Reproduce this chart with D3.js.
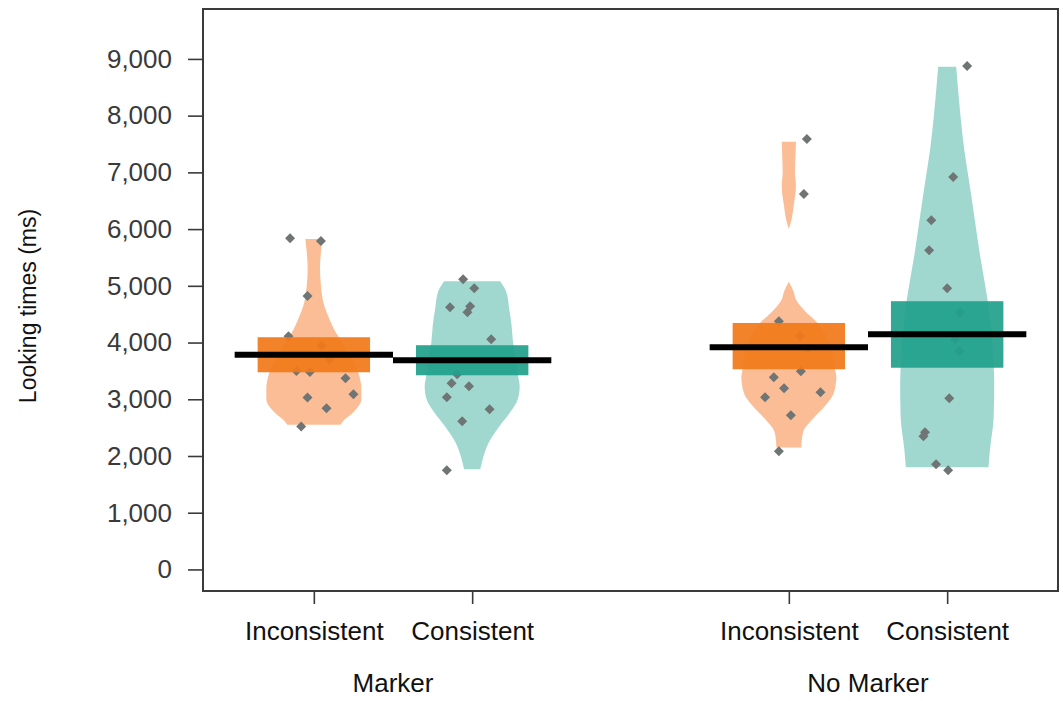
<!DOCTYPE html>
<html>
<head>
<meta charset="utf-8">
<script src="https://cdn.jsdelivr.net/npm/d3@7"></script>
<style>
  body { margin: 0; background: #fff; }
  text { font-family: "Liberation Sans", Arial, sans-serif; }
</style>
</head>
<body>
<div id="chart"></div>
<script>
// looking times per condition (ms)
const groups = ['Marker', 'No Marker'];
const conditions = ['Inconsistent', 'Consistent'];
const yTicks = [0, 1000, 2000, 3000, 4000, 5000, 6000, 7000, 8000, 9000];

const means = [3785, 3688, 3917, 4147];
const infLow = [3476, 3423, 3529, 3556];
const infHigh = [4094, 3953, 4345, 4729];

// bean densities, [value, relative density]
const bean1 = [[5825, 0.18], [5600, 0.15], [5300, 0.13], [5000, 0.15], [4710, 0.2], [4410, 0.33], [4180, 0.46],
  [4000, 0.6], [3800, 0.75], [3600, 0.88], [3400, 0.96], [3200, 1.0], [3000, 1.0], [2770, 0.83], [2600, 0.6], [2550, 0.56]];
const bean2 = [[5080, 0.59], [4890, 0.72], [4590, 0.78], [4300, 0.83], [4000, 0.86], [3700, 0.92], [3400, 0.97],
  [3230, 1.0], [3000, 0.96], [2770, 0.8], [2520, 0.57], [2240, 0.35], [1940, 0.22], [1765, 0.17]];
const bean3 = [[7540, 0.15], [7300, 0.14], [7000, 0.13], [6760, 0.15], [6400, 0.1], [6180, 0.06], [6000, 0],
  [5500, null], [5070, 0], [4900, 0.1], [4760, 0.15], [4530, 0.37], [4350, 0.6], [4100, 0.8], [3800, 0.93],
  [3500, 0.98], [3400, 1.0], [3120, 0.95], [2880, 0.76], [2650, 0.5], [2420, 0.3], [2150, 0.26]];
const bean4 = [[8860, 0.19], [8000, 0.28], [7400, 0.36], [6800, 0.47], [6230, 0.57], [5600, 0.68], [5060, 0.79],
  [4700, 0.86], [4200, 0.93], [3700, 0.97], [3300, 0.99], [2700, 0.98], [2100, 0.9], [1800, 0.87]];
const beans = [bean1, bean2, bean3, bean4];

// raw observations, [value, jitter]
const points1 = [[5840, -0.15], [5790, 0.045], [4820, -0.04], [4110, -0.16], [3500, -0.11], [3480, -0.025],
  [3370, 0.2], [3090, 0.25], [3030, -0.04], [2840, 0.08], [2520, -0.08], [3950, 0.05], [3700, 0.1]];
const points2 = [[5117, -0.057], [4958, 0.013], [4623, -0.14], [4640, -0.013], [4535, -0.03], [4058, 0.12],
  [3441, -0.095], [3282, -0.13], [3229, -0.02], [3035, -0.16], [2823, 0.11], [2612, -0.063], [1747, -0.16]];
const points3 = [[7588, 0.114], [6617, 0.095], [4376, -0.063], [4110, 0.07], [3494, 0.076], [3388, -0.095],
  [3194, -0.03], [3035, -0.15], [3123, 0.2], [2717, 0.013], [2082, -0.063], [3900, 0.12]];
const points4 = [[8876, 0.126], [6917, 0.038], [6158, -0.1], [5629, -0.114], [4958, 0], [4535, 0.082],
  [4058, 0.05], [3847, 0.076], [3017, 0.013], [2418, -0.14], [2347, -0.15], [1853, -0.07], [1747, 0.006]];
const points = [points1, points2, points3, points4];

const beanColors = ['#fbbd95', '#a0d8d0', '#fbbd95', '#a0d8d0'];
const boxColors = ['#f27a1a', '#21a08c', '#f27a1a', '#21a08c'];

const width = 1063, height = 701;
const margin = { top: 9, right: 5, bottom: 110, left: 203 };

const svg = d3.select('#chart').append('svg')
  .attr('width', width)
  .attr('height', height);

// x positions 1,2 and 4,5 like pirateplot
const cells = [];
groups.forEach((g, gi) => conditions.forEach((c, ci) => cells.push({ group: g, cond: c, pos: gi * 3 + ci + 1 })));

const x = d3.scaleLinear().domain([0.3, 5.7]).range([margin.left, width - margin.right]);
const y = d3.scaleLinear().domain([-380, 9880]).range([height - margin.bottom, margin.top]);

const beanWidth = 0.3, boxWidth = 0.355, lineWidth = 0.5;

// beans
cells.forEach((cell, i) => {
  const area = d3.area()
    .defined(d => d[1] !== null)
    .y(d => y(d[0]))
    .x0(d => x(cell.pos - d[1] * beanWidth))
    .x1(d => x(cell.pos + d[1] * beanWidth))
    .curve(d3.curveMonotoneY);
  svg.append('path')
    .datum(beans[i].slice().reverse())
    .attr('d', area)
    .attr('fill', beanColors[i]);
});

// points
const diamond = d3.symbol().type(d3.symbolSquare).size(50);
cells.forEach((cell, i) => {
  svg.append('g').selectAll('path').data(points[i])
    .enter().append('path')
      .attr('d', diamond)
      .attr('transform', d => `translate(${x(cell.pos + d[1])},${y(d[0])}) rotate(45)`)
      .attr('fill', '#6f7474');
});

// inference bands
cells.forEach((cell, i) => {
  svg.append('rect')
    .attr('x', x(cell.pos - boxWidth))
    .attr('width', x(cell.pos + boxWidth) - x(cell.pos - boxWidth))
    .attr('y', y(infHigh[i]))
    .attr('height', y(infLow[i]) - y(infHigh[i]))
    .attr('fill', boxColors[i])
    .attr('fill-opacity', 0.93);
});

// means
cells.forEach((cell, i) => {
  svg.append('line')
    .attr('x1', x(cell.pos - lineWidth))
    .attr('x2', x(cell.pos + lineWidth))
    .attr('y1', y(means[i]))
    .attr('y2', y(means[i]))
    .attr('stroke', '#000')
    .attr('stroke-width', 6);
});

// frame
svg.append('rect')
  .attr('x', margin.left)
  .attr('y', margin.top)
  .attr('width', width - margin.right - margin.left)
  .attr('height', height - margin.bottom - margin.top)
  .attr('fill', 'none')
  .attr('stroke', '#3a3a3a')
  .attr('stroke-width', 2);

// y axis
const yAxis = d3.axisLeft(y)
  .tickValues(yTicks)
  .tickFormat(d3.format(','))
  .tickSize(15)
  .tickPadding(16);
const yAxisG = svg.append('g')
  .attr('transform', `translate(${margin.left},0)`)
  .call(yAxis);
yAxisG.select('.domain').remove();
yAxisG.selectAll('line').attr('stroke', '#3a3a3a').attr('stroke-width', 1.6);
yAxisG.selectAll('text').attr('font-size', 26).attr('fill', '#3a3a3a')
  .style('font-family', '"Liberation Sans", Arial, sans-serif');

svg.append('text')
  .attr('transform', `translate(36,${(margin.top + height - margin.bottom) / 2 + 6}) rotate(-90)`)
  .attr('text-anchor', 'middle')
  .attr('font-size', 23)
  .attr('fill', '#111')
  .text('Looking times (ms)');

// x axis
const xAxis = d3.axisBottom(x)
  .tickValues(cells.map(c => c.pos))
  .tickFormat((d, i) => cells[i].cond)
  .tickSize(13)
  .tickPadding(18);
const xAxisG = svg.append('g')
  .attr('transform', `translate(0,${height - margin.bottom})`)
  .call(xAxis);
xAxisG.select('.domain').remove();
xAxisG.selectAll('line').attr('stroke', '#3a3a3a').attr('stroke-width', 1.6);
xAxisG.selectAll('text').attr('font-size', 26).attr('fill', '#111')
  .style('font-family', '"Liberation Sans", Arial, sans-serif');

svg.append('g').selectAll('text').data(groups)
  .enter().append('text')
    .attr('x', (d, gi) => x(gi * 3 + 1.5))
    .attr('y', height - margin.bottom + 101)
    .attr('text-anchor', 'middle')
    .attr('font-size', 26)
    .attr('fill', '#111')
    .text(d => d);
</script>
</body>
</html>
